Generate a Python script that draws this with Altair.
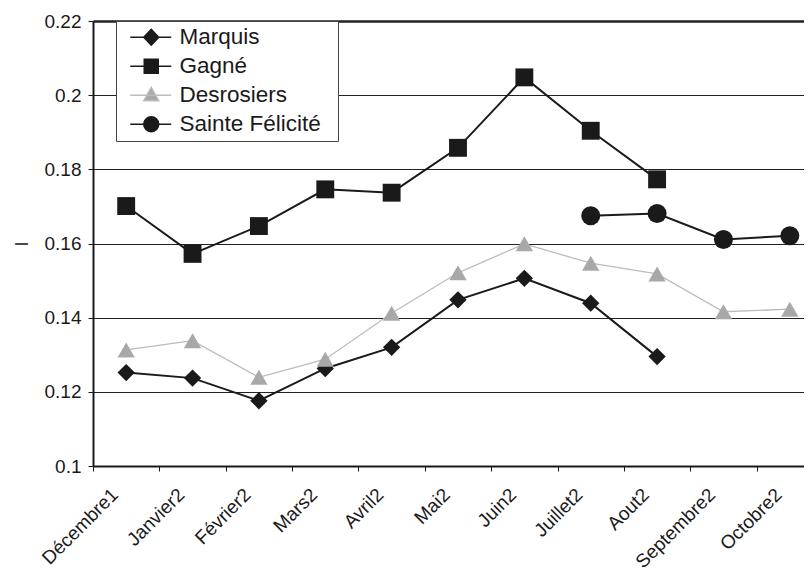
import altair as alt
import pandas as pd

months = ["Décembre1", "Janvier2", "Février2", "Mars2", "Avril2", "Mai2",
          "Juin2", "Juillet2", "Aout2", "Septembre2", "Octobre2"]
series_names = ["Marquis", "Gagné", "Desrosiers", "Sainte Félicité"]

marquis = [0.1252, 0.1237, 0.1176, 0.1263, 0.1320, 0.1448, 0.1506, 0.1439, 0.1295, None, None]
gagne = [0.1701, 0.1572, 0.1647, 0.1746, 0.1737, 0.1858, 0.2048, 0.1904, 0.1773, None, None]
desrosiers = [0.1313, 0.1338, 0.1239, 0.1288, 0.1412, 0.1521, 0.1599, 0.1547, 0.1518, 0.1416, 0.1423]
sainte = [None, None, None, None, None, None, None, 0.1675, 0.1681, 0.1611, 0.1621]

y_ticks = [0.1, 0.12, 0.14, 0.16, 0.18, 0.2, 0.22]

marker_colors = ["#1a1a1a", "#1a1a1a", "#a8a8a8", "#1a1a1a"]
line_colors = ["#1a1a1a", "#1a1a1a", "#bcbcbc", "#1a1a1a"]
line_widths = [2, 2, 1.3, 2]
shapes = ["diamond", "square", "triangle-up", "circle"]
sizes = [300, 320, 300, 361]
legend_paths = [
    "M-0.2,0L3.9,0M1.15,0L1.9,-0.8L2.65,0L1.9,0.8ZM19.7,0",
    "M-0.2,0L3.9,0M1.2,-0.7L2.6,-0.7L2.6,0.7L1.2,0.7ZM19.7,0",
    "M-0.2,0L3.9,0M1.9,-0.8L2.65,0.55L1.15,0.55ZM19.7,0",
    "M-0.2,0L3.9,0M1.15,0A0.75,0.75 0 1,0 2.65,0A0.75,0.75 0 1,0 1.15,0ZM19.7,0",
]

rows = []
for name, vals in zip(series_names, [marquis, gagne, desrosiers, sainte]):
    for m, v in zip(months, vals):
        if v is not None:
            rows.append({"mois": m, "serie": name, "I": v})
df = pd.DataFrame(rows)

FONT = "Liberation Sans"
TXT = "#1a1a1a"

x_enc = alt.X(
    "mois:N", sort=months,
    scale=alt.Scale(type="band", domain=months, range=[0, 730], paddingInner=0, paddingOuter=0),
    axis=alt.Axis(title=None, labelAngle=-45, tickBand="extent", grid=False,
                  labelFontSize=19, labelFont=FONT, labelColor=TXT,
                  labelAlign="right", labelBaseline="top",
                  tickSize=5, tickColor=TXT, domainColor=TXT, domainWidth=2,
                  labelPadding=14, labelOffset=-18),
)
y_enc = alt.Y(
    "I:Q",
    scale=alt.Scale(domain=[0.1, 0.22], nice=False, zero=False),
    axis=alt.Axis(title="I", values=y_ticks, format=".2~f",
                  labelFontSize=19, labelFont=FONT, labelColor=TXT, labelPadding=7,
                  tickSize=5, tickColor=TXT, domainColor=TXT, domainWidth=2,
                  grid=True, gridColor="#222222",
                  gridWidth={"condition": {"test": "datum.value > 0.219", "value": 2.5}, "value": 1},
                  titleFont=FONT, titleFontSize=18, titleFontWeight="normal", titleColor=TXT,
                  titlePadding=13),
)

base = alt.Chart(df)

line_layers = []
point_layers = []
for name, shp, col, lcol, lw, sz in zip(series_names, shapes, marker_colors, line_colors, line_widths, sizes):
    sub = base.transform_filter(alt.datum.serie == name)
    line_layers.append(
        sub.mark_line(strokeWidth=lw).encode(x=x_enc, y=y_enc, stroke=alt.value(lcol))
    )
    point_layers.append(
        sub.mark_point(filled=True, shape=shp, size=sz, opacity=1)
        .encode(x=x_enc, y=y_enc, fill=alt.value(col))
    )

leg = alt.Legend(
    title=None, orient="none", legendX=23, legendY=0,
    padding=5, rowPadding=6, labelOffset=36, symbolSize=400,
    symbolStrokeWidth=1.5, symbolOpacity=1,
    labelFont=FONT, labelFontSize=22.5, labelColor=TXT,
    fillColor="white", strokeColor="#444444",
)

legend_layer = base.mark_point(filled=True, opacity=0).encode(
    x=x_enc, y=y_enc,
    fill=alt.Fill("serie:N", scale=alt.Scale(domain=series_names, range=marker_colors), legend=leg),
    stroke=alt.Stroke("serie:N", scale=alt.Scale(domain=series_names, range=line_colors), legend=leg),
    shape=alt.Shape("serie:N", scale=alt.Scale(domain=series_names, range=legend_paths), legend=leg),
)

chart = alt.layer(*line_layers, *point_layers, legend_layer).properties(
    width=711, height=445,
    autosize=alt.AutoSizeParams(type="none"),
    padding={"left": 85, "top": 13, "right": 0, "bottom": 104},
).configure_view(stroke=None).configure_legend(
    strokeWidth=1.5,
).configure(background="white")

chart.save("out.html", embed_options={"renderer": "svg", "actions": False})
